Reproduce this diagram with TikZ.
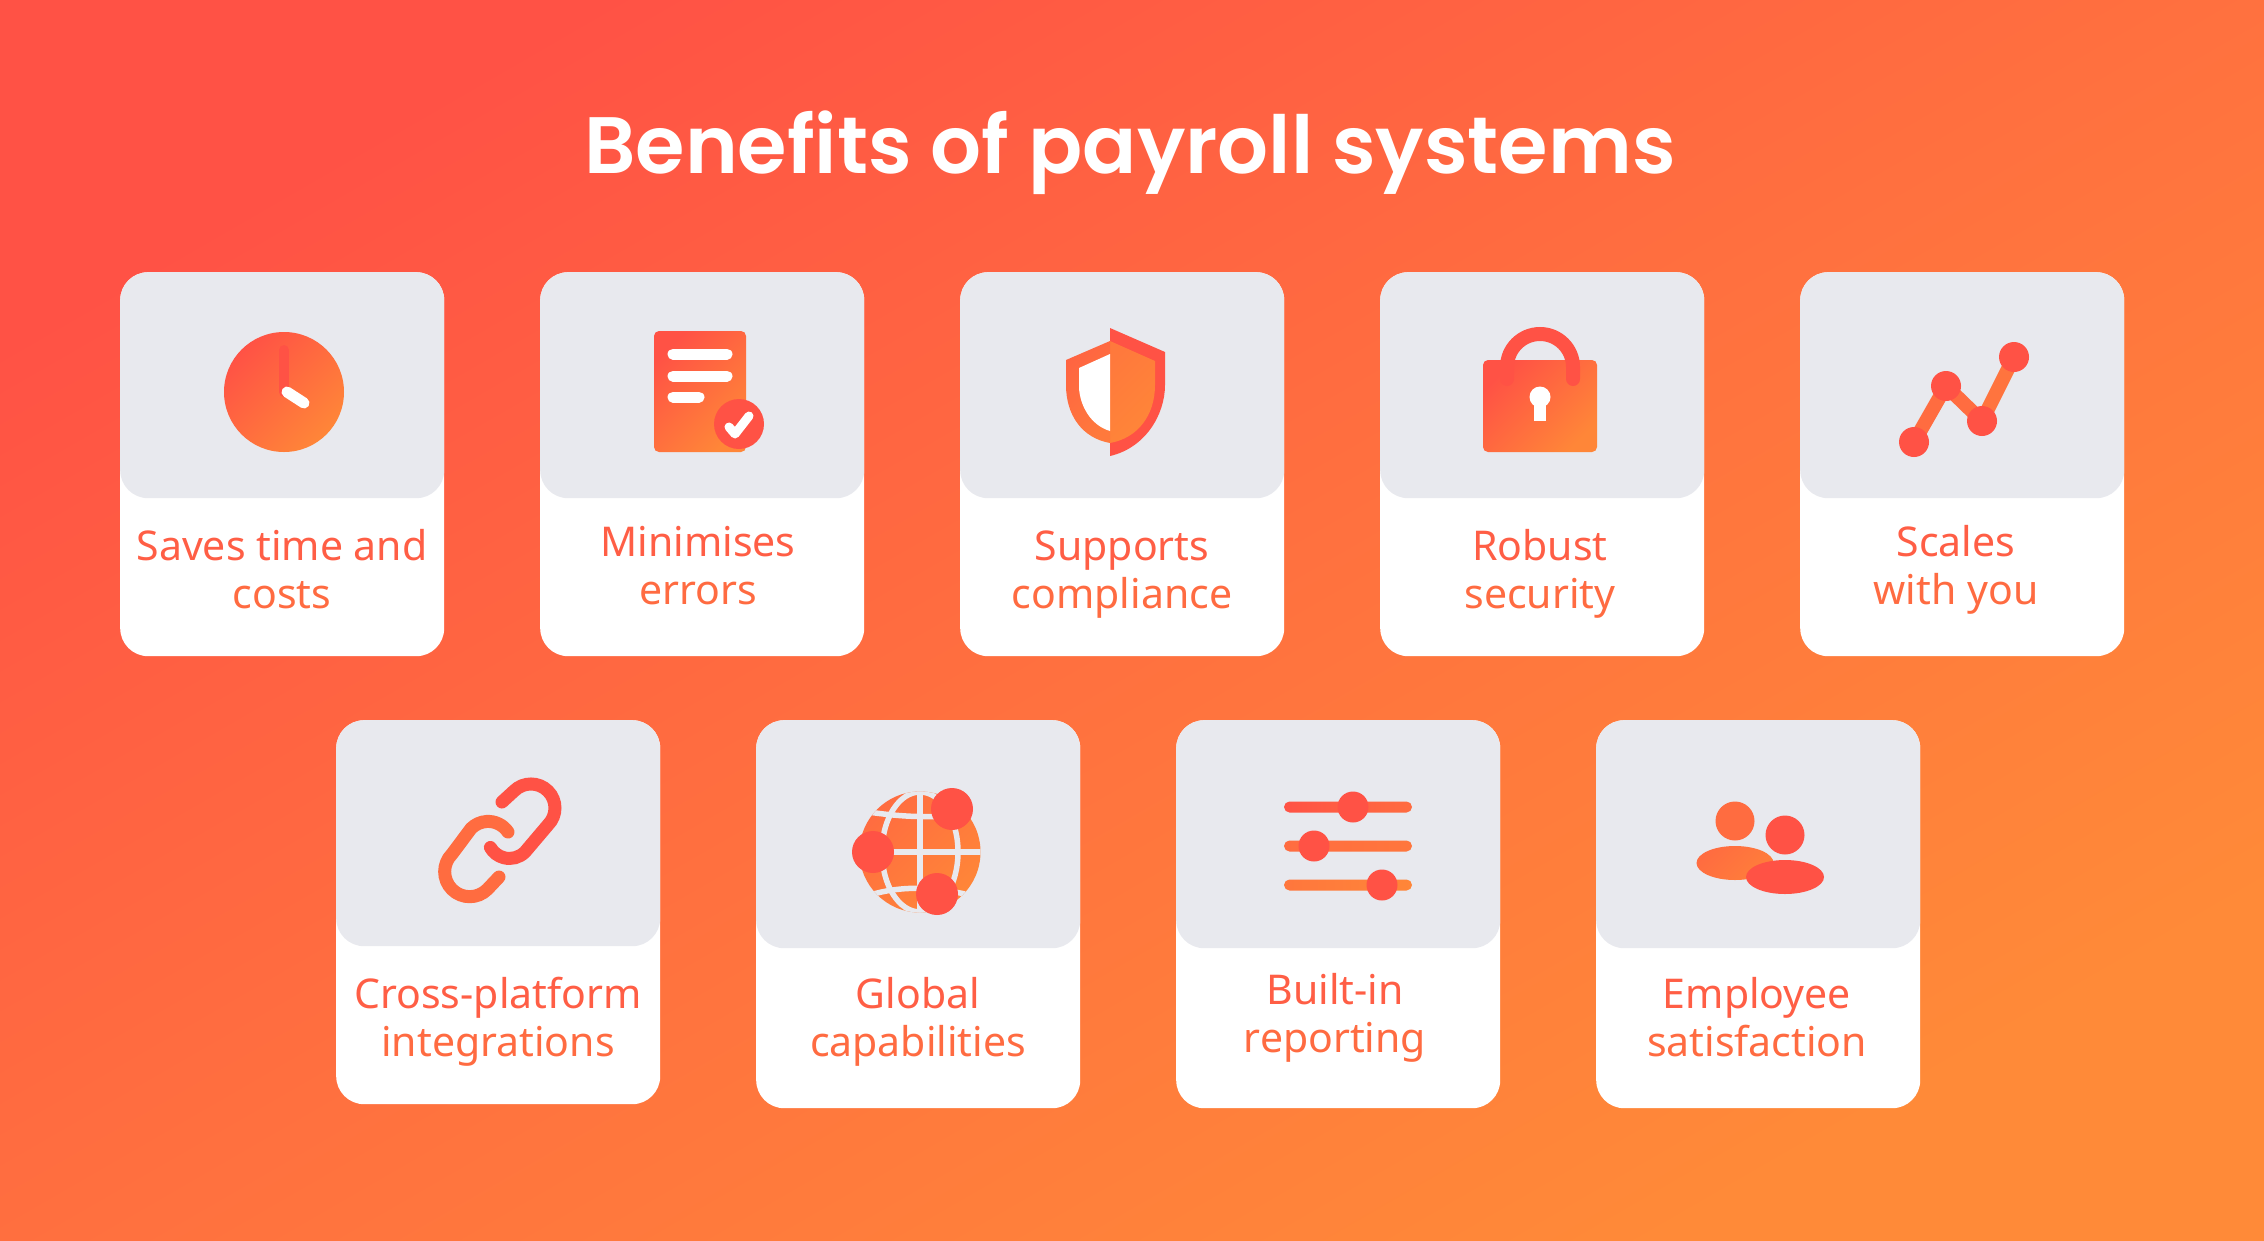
\documentclass[tikz,border=0pt]{standalone}
\usepackage{fontspec}
\setmainfont{Noto Sans}
\newfontfamily\titlefont{Poppins SemiBold}
\usepackage{tikz}
\usetikzlibrary{positioning, shapes.geometric}
\definecolor{redc}{HTML}{FF5245}
\definecolor{midc}{HTML}{FF6C40}
\definecolor{orangec}{HTML}{FF8638}
\definecolor{bgmid}{HTML}{FF703F}
\definecolor{bgend}{HTML}{FF8A38}
\definecolor{greyc}{HTML}{E8E9EE}
\definecolor{txta}{HTML}{FF5E45}
\definecolor{txtb}{HTML}{FF6B41}
\tikzset{
  cardbox/.style={ draw=none, fill=white, rounded corners=28pt, minimum width=324pt, minimum height=384pt, anchor=north west, inner sep=0pt }
}
\tikzset{
  iconbox/.style={ draw=none, fill=greyc, rounded corners=28pt, minimum width=324pt, minimum height=226pt, anchor=north west, inner sep=0pt }
}
\tikzset{
  cardtext/.style={ text=txta, align=center, anchor=base, inner sep=0pt, font=\fontsize{41}{48}\selectfont }
}
\tikzset{
  iconfill/.style={ left color=redc, right color=orangec, shading angle=45 }
}
\tikzset{
  knob/.style={ circle, fill=redc, inner sep=0pt, minimum size=#1 }
}
\newcommand{\nextline}[1]{{\color{txtb}#1}}

\begin{document}
\begin{tikzpicture}[x=1pt, y=-1pt]
  \useasboundingbox (0,0) rectangle (2264,1240);
  \shade[left color=redc, right color=bgend, middle color=bgmid, shading angle=30] (0,0) rectangle (2264,1240);
  \node[text=white, anchor=base, inner sep=0pt, font=\titlefont\fontsize{80}{90}\selectfont] (title) at (1130,173) {Benefits of payroll systems};

  % top row
  \node[cardbox] (card1) at (120,272) {};
  \node[iconbox] (icon1) at (120,272) {};
  \node[cardbox] (card2) at (540,272) {};
  \node[iconbox] (icon2) at (540,272) {};
  \node[cardbox] (card3) at (960,272) {};
  \node[iconbox] (icon3) at (960,272) {};
  \node[cardbox] (card4) at (1380,272) {};
  \node[iconbox] (icon4) at (1380,272) {};
  \node[cardbox] (card5) at (1800,272) {};
  \node[iconbox] (icon5) at (1800,272) {};
  % bottom row
  \node[cardbox, minimum height=384pt] (card6) at (336,720) {};
  \node[iconbox] (icon6) at (336,720) {};
  \node[cardbox, minimum height=388pt] (card7) at (756,720) {};
  \node[iconbox, minimum height=228pt] (icon7) at (756,720) {};
  \node[cardbox, minimum height=388pt] (card8) at (1176,720) {};
  \node[iconbox, minimum height=228pt] (icon8) at (1176,720) {};
  \node[cardbox, minimum height=388pt] (card9) at (1596,720) {};
  \node[iconbox, minimum height=228pt] (icon9) at (1596,720) {};

  \node[cardtext] (text1) at (282,608) {Saves time and\\\nextline{costs}};
  \node[cardtext] (text2) at (698,604) {Minimises\\\nextline{errors}};
  \node[cardtext] (text3) at (1122,608) {Supports\\\nextline{compliance}};
  \node[cardtext] (text4) at (1540,608) {Robust\\\nextline{security}};
  \node[cardtext] (text5) at (1956,604) {Scales\\\nextline{with you}};
  \node[cardtext] (text6) at (498,1056) {Cross-platform\\\nextline{integrations}};
  \node[cardtext] (text7) at (918,1056) {Global\\\nextline{capabilities}};
  \node[cardtext] (text8) at (1335,1052) {Built-in\\\nextline{reporting}};
  \node[cardtext] (text9) at (1757,1056) {Employee\\\nextline{satisfaction}};

  % clock
  \shade[iconfill] (284,392) circle (60pt);
  \draw[redc, line width=10pt, line cap=round] (284,392) -- (284,350);
  \draw[white, line width=11pt, line cap=round] (287,392) -- (304,403);

  % document
  \shade[iconfill, rounded corners=5pt] (654,331) rectangle (746,452);
  \draw[white, line width=11pt, line cap=round] (673,354) -- (727,354);
  \draw[white, line width=11pt, line cap=round] (673,376) -- (727,376);
  \draw[white, line width=11pt, line cap=round] (673,397) -- (699,397);
  \node[knob=50pt] (tick) at (739,424) {};
  \draw[white, line width=9pt, line cap=round, line join=round] (729,427) -- (735,434) -- (749,416);

  % shield
  \fill[redc] (1110,328) -- (1165,352) -- (1165,385) .. controls (1165,415) and (1145,448) .. (1110,456) -- cycle;
  \shade[left color=midc!50!orangec, right color=orangec, shading angle=45] (1110,341) -- (1155,361) -- (1155,385) .. controls (1155,415) and (1138,438) .. (1110,443) -- cycle;
  \shade[left color=redc!30!midc, right color=midc!50!orangec, shading angle=45] (1110,341) -- (1066,360) -- (1066,385) .. controls (1066,415) and (1082,438) .. (1110,443) -- cycle;
  \fill[white] (1110,354) -- (1079,368) -- (1079,388) .. controls (1080,405) and (1090,425) .. (1110,431) -- cycle;

  % lock
  \shade[iconfill, rounded corners=5pt] (1483,360) rectangle (1597,452);
  \draw[redc, line width=14pt, line cap=round] (1507,379) -- (1507,367) arc[start angle=180, end angle=0, radius=33pt] -- (1573,379);
  \fill[white] (1540,397) circle (10.5pt);
  \fill[white] (1534,400) rectangle (1546,421);

  % chart
  \coordinate (pa) at (1914,442);
  \coordinate (pb) at (1946,386);
  \coordinate (pc) at (1982,421);
  \coordinate (pd) at (2014,357);
  \draw[midc, line width=14pt] (pa) -- (pb);
  \draw[midc, line width=14pt] (pb) -- (pc);
  \draw[midc!70!orangec, line width=14pt] (pc) -- (pd);
  \node[knob=30pt] (ka) at (pa) {};
  \node[knob=30pt] (kb) at (pb) {};
  \node[knob=30pt] (kc) at (pc) {};
  \node[knob=30pt] (kd) at (pd) {};

  % link
  \draw[redc, line width=13pt, line cap=round] (502,802) -- (514,791) arc[start angle=135, end angle=-45, radius=24pt] -- (525,852) arc[start angle=-45, end angle=-150, radius=22pt];
  \draw[midc, line width=13pt, line cap=round] (508,832) arc[start angle=34, end angle=135, radius=24pt] -- (452,854) arc[start angle=135, end angle=315, radius=25pt] -- (499,877);

  % globe
  \begin{scope}
    \clip (920,852) circle (60.5pt);
    \shade[left color=midc, right color=orangec, shading angle=45] (920,852) circle (60.5pt);
    \draw[greyc, line width=5.5pt] (855,852) -- (985,852);
    \draw[greyc, line width=5.5pt] (920,790) -- (920,914);
    \draw[greyc, line width=5.5pt] (920,852) ellipse [x radius=38pt, y radius=60pt];
    \draw[greyc, line width=5.5pt] (868,812) .. controls (890,815) and (915,818) .. (950,816);
    \draw[greyc, line width=5.5pt] (870,895) .. controls (890,889) and (920,884) .. (965,894);
  \end{scope}
  \node[knob=42pt] (ga) at (952,809) {};
  \node[knob=42pt] (gb) at (873,852) {};
  \node[knob=42pt] (gc) at (937,894) {};

  % sliders
  \shade[left color=redc, right color=midc, rounded corners=5.5pt] (1284,801.5) rectangle (1412,812.5);
  \shade[left color=midc, right color=midc!60!orangec, rounded corners=5.5pt] (1284,840.5) rectangle (1412,851.5);
  \shade[left color=midc!60!orangec, right color=orangec, rounded corners=5.5pt] (1284,879.5) rectangle (1412,890.5);
  \node[knob=31pt] (sa) at (1353,807) {};
  \node[knob=31pt] (sb) at (1314,846) {};
  \node[knob=31pt] (sc) at (1382,885) {};

  % people
  \fill[midc] (1735,821) circle (19.5pt);
  \fill[redc] (1785,835) circle (19.5pt);
  \shade[left color=midc, right color=orangec!70!midc, shading angle=45] (1735,863) ellipse [x radius=38.5pt, y radius=17pt];
  \fill[redc] (1785,877) ellipse [x radius=39pt, y radius=17pt];
\end{tikzpicture}
\end{document}
